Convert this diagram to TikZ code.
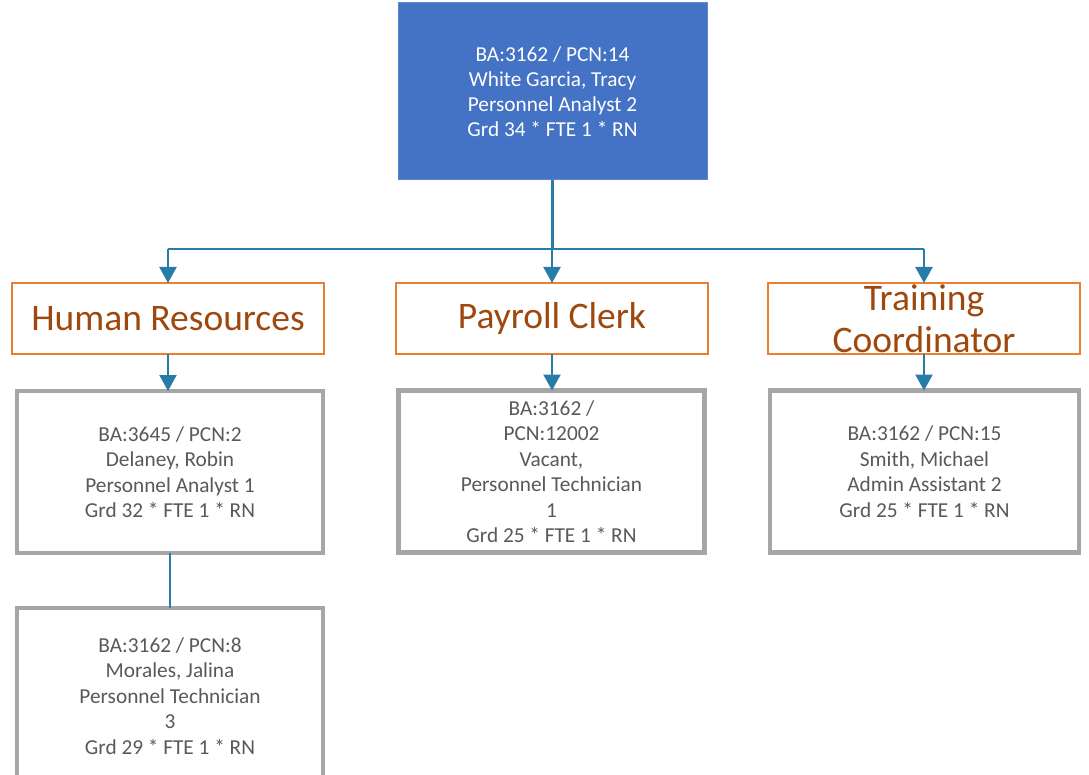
\documentclass[tikz,border=0pt]{standalone}
\usepackage{fontspec}
\setmainfont{Carlito}
\usetikzlibrary{arrows.meta}
\definecolor{topblue}{RGB}{68,114,196}
\definecolor{conncol}{RGB}{40,124,168}
\definecolor{orangeline}{RGB}{237,125,49}
\definecolor{browntext}{RGB}{158,72,14}
\definecolor{grayline}{RGB}{166,166,166}
\definecolor{graytext}{RGB}{89,89,89}
\begin{document}
\begin{tikzpicture}[x=1pt,y=-1pt,
  topbox/.style={draw=topblue!85!white,line width=1pt,fill=topblue,text=white,minimum width=309pt,minimum height=177pt,align=center,inner sep=0pt,outer sep=0pt,font=\fontsize{21.3}{25.2}\selectfont},
  unitbox/.style={draw=orangeline,line width=2pt,fill=white,text=browntext,minimum width=312pt,minimum height=71pt,align=center,inner sep=0pt,outer sep=0pt,font=\fontsize{37.5}{42}\selectfont},
  personbox/.style={draw=grayline,line width=4.5pt,fill=white,text=graytext,minimum width=306pt,minimum height=162pt,align=center,inner sep=0pt,outer sep=0pt,font=\fontsize{21.3}{25.5}\selectfont},
  conn/.style={draw=conncol,line width=2.2pt},
  arr/.style={conn,-{Triangle[width=17pt,length=16pt]}}
]
\useasboundingbox (0,0) rectangle (1089,775);
\node[topbox] (top) at (552.5,91.5) {BA:3162 / PCN:14\\White Garcia, Tracy\\Personnel Analyst 2\\Grd 34 * FTE 1 * RN};

\node[unitbox] (hr) at (168,318.5) {Human Resources};
\node[unitbox] (pay) at (552,318.5) {Payroll Clerk};
\node[unitbox] (tc) at (924,318.5) {Training\\Coordinator};

\node[personbox] (p1) at (170,472) {BA:3645 / PCN:2\\Delaney, Robin\\Personnel Analyst 1\\Grd 32 * FTE 1 * RN};
\node[personbox] (p2) at (551.5,471.5) {BA:3162 /\\PCN:12002\\Vacant,\\Personnel Technician\\1\\Grd 25 * FTE 1 * RN};
\node[personbox,minimum width=309pt] (p3) at (924.5,471.5) {BA:3162 / PCN:15\\Smith, Michael\\Admin Assistant 2\\Grd 25 * FTE 1 * RN};
\node[personbox,minimum height=176pt] (p4) at (170,696) {BA:3162 / PCN:8\\Morales, Jalina\\Personnel Technician\\3\\Grd 29 * FTE 1 * RN};

\coordinate (busL) at (168,249);
\coordinate (busR) at (924,249);
\draw[conn] (busL) -- (busR);
\draw[conn] (top.south) -- (top.south |- busL);
\draw[arr] (busL) -- (hr.north);
\draw[arr] (pay.north |- busL) -- (pay.north);
\draw[arr] (busR) -- (tc.north);
\draw[arr] (hr.south) -- (hr.south |- p1.north);
\draw[arr] (pay.south) -- (pay.south |- p2.north);
\draw[arr] (tc.south) -- (tc.south |- p3.north);
\draw[conn] (p1.south) -- (p4.north);
\end{tikzpicture}
\end{document}
